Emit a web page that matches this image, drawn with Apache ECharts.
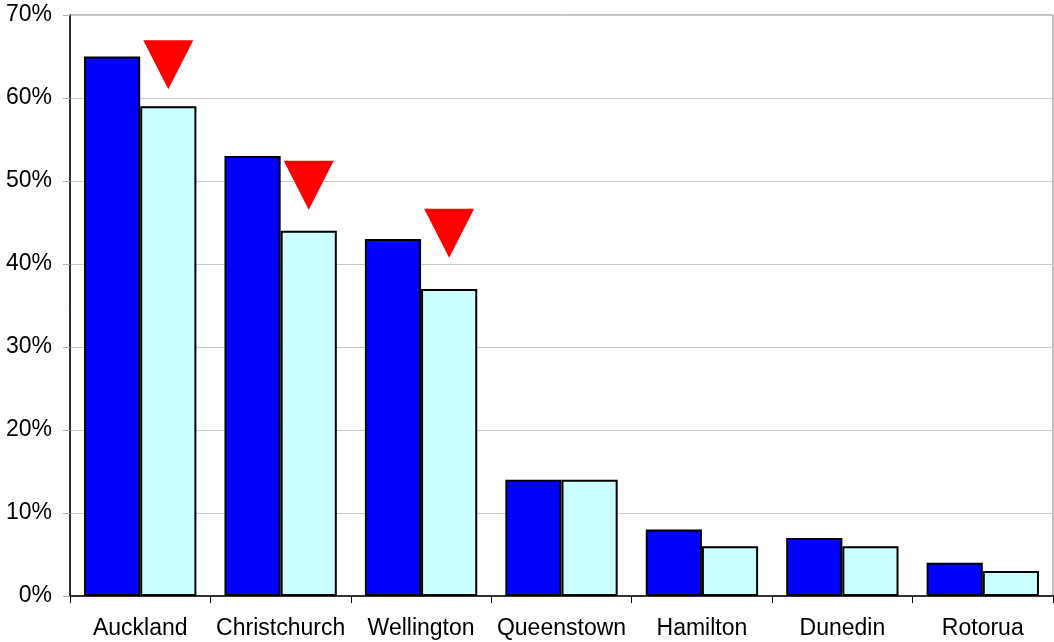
<!DOCTYPE html>
<html>
<head>
<meta charset="utf-8">
<title>Share by city</title>
<script src="https://cdn.jsdelivr.net/npm/echarts@6/dist/echarts.min.js"></script>
<style>
  html, body { margin: 0; padding: 0; background: #ffffff; }
  #chart { width: 1054px; height: 642px; }
</style>
</head>
<body>
<div id="chart"></div>
<script>
// Cities along the horizontal axis
const cities = ['Auckland', 'Christchurch', 'Wellington', 'Queenstown', 'Hamilton', 'Dunedin', 'Rotorua'];
// Percentage shares, earlier period (dark blue) and later period (pale cyan)
const earlierShare = [65, 53, 43, 14, 8, 7, 4];
const laterShare = [59, 44, 37, 14, 6, 6, 3];
// Downward markers flagging the cities with a drop: [city index, level in %]
const dropMarkers = [[0, 64], [1, 49.5], [2, 43.7]];
// Vertical axis range and step, in %
const yMin = 0, yMax = 70, yStep = 10;

const chart = echarts.init(document.getElementById('chart'), null, { renderer: 'canvas' });

const font = 'Liberation Sans, Arial, Helvetica, sans-serif';

chart.setOption({
  animation: false,
  backgroundColor: '#ffffff',
  grid: {
    left: 70, right: 1, top: 15, bottom: 46,
    show: true, borderColor: '#808080', borderWidth: 1,
    containLabel: false
  },
  xAxis: {
    type: 'category',
    data: cities,
    boundaryGap: true,
    axisLine: { show: true, lineStyle: { color: '#000000', width: 1.5 } },
    axisTick: { show: true, length: 7, alignWithLabel: false, lineStyle: { color: '#000000', width: 1 } },
    axisLabel: { color: '#000000', fontSize: 23, fontFamily: font, margin: 21, interval: 0 },
    splitLine: { show: false }
  },
  yAxis: {
    type: 'value',
    min: yMin, max: yMax, interval: yStep,
    axisLine: { show: true, lineStyle: { color: '#000000', width: 1.5 } },
    axisTick: { show: true, length: 7, lineStyle: { color: '#b0b0b0', width: 1 } },
    axisLabel: { color: '#000000', fontSize: 23, fontFamily: font, margin: 18, formatter: '{value}%' },
    splitLine: { show: true, lineStyle: { color: '#c8c8c8', width: 1 } }
  },
  series: [
    {
      name: 'Earlier',
      type: 'bar',
      data: earlierShare,
      barGap: '0%',
      barCategoryGap: '20%',
      itemStyle: { color: '#0000ff', borderColor: '#000000', borderWidth: 2 }
    },
    {
      name: 'Later',
      type: 'bar',
      data: laterShare,
      barGap: '0%',
      barCategoryGap: '20%',
      itemStyle: { color: '#ccffff', borderColor: '#000000', borderWidth: 2 },
      markPoint: {
        symbol: 'triangle',
        symbolRotate: 180,
        symbolSize: [50, 49],
        itemStyle: { color: '#ff0000', borderWidth: 0 },
        label: { show: false },
        data: dropMarkers.map(function (m) { return { coord: [m[0], m[1]] }; })
      }
    }
  ]
});
</script>
</body>
</html>
